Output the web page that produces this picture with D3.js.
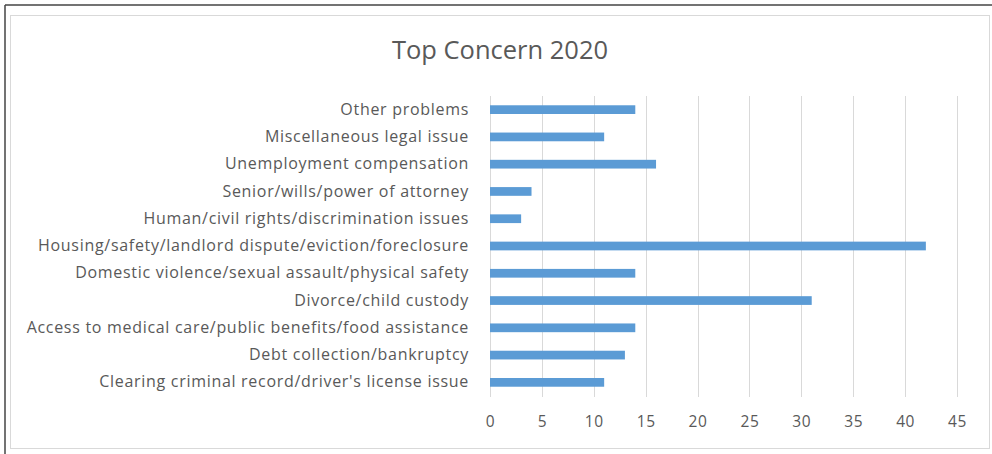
<!DOCTYPE html>
<html><head><meta charset="utf-8">
<script src="https://cdn.jsdelivr.net/npm/d3@7"></script>
<style>
html,body{margin:0;padding:0;background:#fff;}
svg{display:block;}
text{font-family:"Open Sans",sans-serif;fill:#595959;}
</style></head>
<body>
<svg id="chart" width="992" height="454"></svg>
<script>
const title = "Top Concern 2020";
const categories = [
  "Other problems",
  "Miscellaneous legal issue",
  "Unemployment compensation",
  "Senior/wills/power of attorney",
  "Human/civil rights/discrimination issues",
  "Housing/safety/landlord dispute/eviction/foreclosure",
  "Domestic violence/sexual assault/physical safety",
  "Divorce/child custody",
  "Access to medical care/public benefits/food assistance",
  "Debt collection/bankruptcy",
  "Clearing criminal record/driver's license issue"
];
const values = [14, 11, 16, 4, 3, 42, 14, 31, 14, 13, 11];
const ticks = [0, 5, 10, 15, 20, 25, 30, 35, 40, 45];

const svg = d3.select("#chart");
// outer frame
svg.append("line").attr("x1",5).attr("y1",5).attr("x2",992).attr("y2",5).attr("stroke","#444").attr("stroke-width",1.5);
svg.append("line").attr("x1",5).attr("y1",5).attr("x2",5).attr("y2",454).attr("stroke","#444").attr("stroke-width",1.5);
svg.append("rect").attr("x",10.5).attr("y",15.5).attr("width",979).attr("height",433).attr("fill","#fff").attr("stroke","#d9d9d9");

const x = d3.scaleLinear().domain([0,45]).range([490,957]);
const y = d3.scaleBand().domain(categories).range([96,396]).paddingInner(0.68).paddingOuter(0.34);

svg.append("text").attr("x",500).attr("y",59).attr("text-anchor","middle")
  .style("font-size","25.5px").text(title);

// gridlines
svg.append("g").selectAll("line").data(ticks).join("line")
  .attr("x1",d=>Math.round(x(d))+0.5).attr("x2",d=>Math.round(x(d))+0.5)
  .attr("y1",96).attr("y2",397).attr("stroke","#d9d9d9");

// bars
svg.append("g").selectAll("rect").data(values).join("rect")
  .attr("x",x(0)).attr("y",(d,i)=>y(categories[i]))
  .attr("width",d=>x(d)-x(0)).attr("height",y.bandwidth())
  .attr("fill","#5b9bd5");

// x axis labels
const xAxis = d3.axisBottom(x).tickValues(ticks).tickSize(0).tickPadding(0);
const gx = svg.append("g").attr("transform","translate(0,416)").call(xAxis);
gx.select(".domain").remove();
gx.selectAll("text").style("font-size","15.5px").style("letter-spacing","0.6px").style("fill","#595959").attr("dy","0.32em").attr("y",6);

// y axis labels
const yAxis = d3.axisLeft(y).tickSize(0).tickPadding(0);
const gy = svg.append("g").attr("transform","translate(469,0)").call(yAxis);
gy.select(".domain").remove();
gy.selectAll("text").style("font-size","16px").style("letter-spacing","0.7px").style("fill","#595959");
</script>
</body></html>
